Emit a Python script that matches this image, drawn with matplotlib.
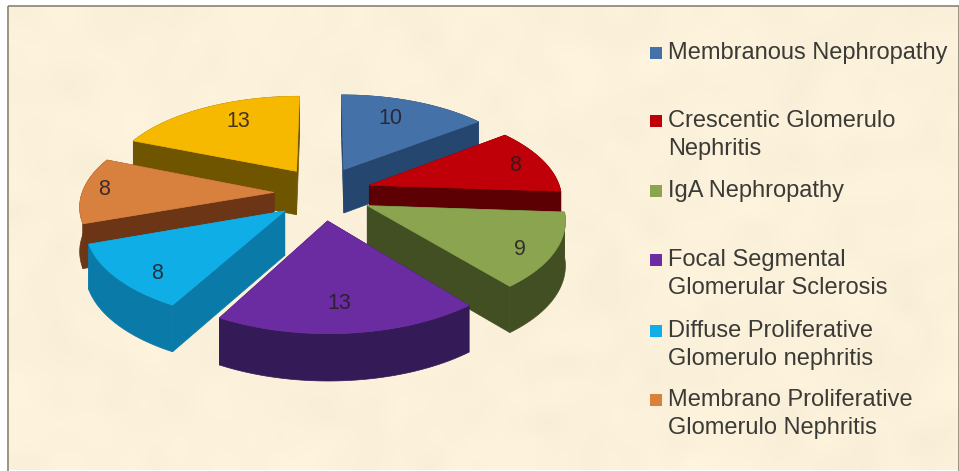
import numpy as np
import matplotlib
matplotlib.use("Agg")
import matplotlib.pyplot as plt
from matplotlib.patches import Polygon, Rectangle

plt.rcParams["font.family"] = ["Liberation Sans", "DejaVu Sans"]

# Case counts per diagnosis, clockwise from twelve o'clock
categories = [
    "Membranous Nephropathy",
    "Crescentic Glomerulo\nNephritis",
    "IgA Nephropathy",
    "Focal Segmental\nGlomerular Sclerosis",
    "Diffuse Proliferative\nGlomerulo nephritis",
    "Membrano Proliferative\nGlomerulo Nephritis",
    "",
]
values = [10, 8, 9, 13, 8, 8, 13]
top_colors = ["#4472a8", "#c00008", "#8ba450", "#6a2ca0", "#10aee6", "#d8813e", "#f7b800"]
side_colors = ["#25466e", "#5c0004", "#414f22", "#351a58", "#0a7aa8", "#6b3516", "#6f5500"]
label_radius = [0.72, 0.83, 0.85, 0.76, 0.84, 0.89, 0.73]
label_sweep = [0.44, 0.52, 0.59, 0.52, 0.36, 0.52, 0.58]
legend_y = [53, 135, 191, 274, 345, 414]

# Perspective pie geometry, in pixels of the figure
CX, CY = 323, 193
SCALE_X, SCALE_Y = 192, 90
PERSPECTIVE = 0.13
EXPLODE_X, EXPLODE_Y = 0.255, 0.30
DEPTH = 44


def project(x, y, drop=0.0):
    s = 1.0 / (1.0 + PERSPECTIVE * y)
    return CX + SCALE_X * x * s, CY - SCALE_Y * y * s + drop * s ** 0.4


fig = plt.figure(figsize=(9.59, 4.71), dpi=100, facecolor="white")
ax = fig.add_axes([0, 0, 1, 1])
ax.axis("off")

# Mottled parchment backdrop inside a thin frame
rng = np.random.default_rng(4)
blotches = 0.6 * rng.normal(size=(24, 48)) + 0.4 * rng.normal(size=(24, 48))
paper = np.clip(blotches[..., None] * 3.0 + np.array([252.0, 241.0, 219.0]), 0, 255) / 255
ax.imshow(paper, extent=(9, 958, 470, 7), interpolation="bicubic", aspect="auto", zorder=0)
ax.set_xlim(0, 959)
ax.set_ylim(471, 0)
ax.add_patch(Rectangle((8, 6), 951, 470, fill=False, ec="#8a8270", lw=1.2, zorder=1))

fractions = np.cumsum([0] + values) / sum(values) * 2 * np.pi
wedges = []
for i, v in enumerate(values):
    start, end = fractions[i], fractions[i + 1]
    mid = (start + end) / 2
    ox, oy = EXPLODE_X * np.sin(mid), EXPLODE_Y * np.cos(mid)
    t = np.linspace(start, end, 60)
    wedges.append((oy, i, ox, ox + np.sin(t), oy + np.cos(t), start, end))

# Painter's order: wedges further back are drawn first
for z, (oy, i, ox, arc_x, arc_y, start, end) in enumerate(sorted(wedges, key=lambda w: -w[0])):
    xs = np.r_[ox, arc_x]
    ys = np.r_[oy, arc_y]
    tx, ty = project(xs, ys)
    bx, by = project(xs, ys, DEPTH)
    level = 2 + z * 0.1
    wall = dict(fc=side_colors[i], ec=side_colors[i], lw=0.5, zorder=level)
    # Two radial walls and the curved rim, extruded downward
    for a, b in ((0, 1), (0, -1)):
        ax.add_patch(Polygon([(tx[a], ty[a]), (tx[b], ty[b]), (bx[b], by[b]), (bx[a], by[a])], **wall))
    ax.add_patch(Polygon(np.r_[np.c_[tx[1:], ty[1:]], np.c_[bx[1:], by[1:]][::-1]], **wall))
    ax.add_patch(Polygon(np.c_[tx, ty], fc=top_colors[i], ec=top_colors[i], lw=0.5, zorder=level + 0.01))

    r = label_radius[i]
    angle = start + label_sweep[i] * (end - start)
    lx, ly = project(ox + r * np.sin(angle), oy + r * np.cos(angle))
    ax.text(lx, ly, str(values[i]), fontsize=15.5, color="#241c24", alpha=0.85,
            ha="center", va="center", zorder=5)

# Legend swatches with wrapped names
for y, name, color in zip(legend_y, categories, top_colors):
    first_line = y - 14 if "\n" in name else y
    ax.add_patch(Rectangle((650, first_line - 6), 12, 12, fc=color, ec="none", zorder=5))
    ax.text(668, y, name, fontsize=17, color="#3a3a36", ha="left", va="center",
            linespacing=1.38, zorder=5)

fig.savefig("out.png", dpi=100)
